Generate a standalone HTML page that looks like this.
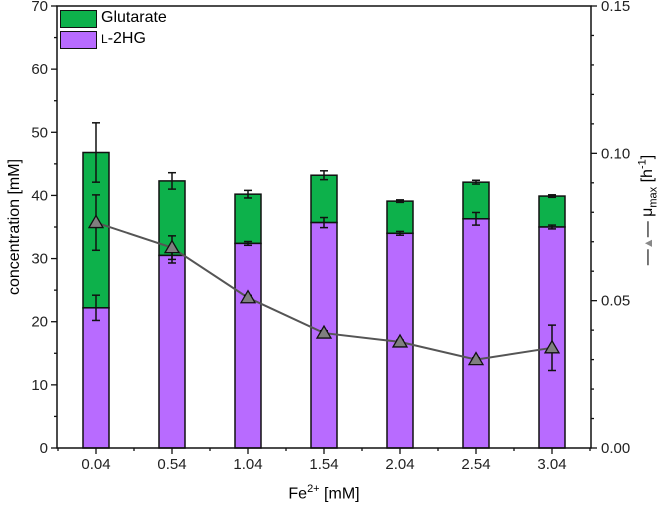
<!DOCTYPE html>
<html><head><meta charset="utf-8"><style>
body{margin:0;background:#fff}
svg text{font-family:"Liberation Sans",sans-serif;fill:#222}
</style></head><body>
<svg id="c" width="661" height="508" xmlns="http://www.w3.org/2000/svg"></svg>
<script>
const categories=["0.04","0.54","1.04","1.54","2.04","2.54","3.04"];
const hg=[22.2,30.5,32.4,35.7,34.0,36.3,35.0];
const hgErr=[2.0,1.2,0.3,0.8,0.3,1.0,0.3];
const total=[46.8,42.3,40.2,43.2,39.1,42.1,39.9];
const totalErr=[4.7,1.3,0.6,0.7,0.2,0.3,0.2];
const mu=[0.0765,0.068,0.051,0.039,0.036,0.030,0.034];
const muErr=[0.0094,0.004,0.0008,0.0008,0.0006,0.0006,0.0077];
const leftTicks=[0,10,20,30,40,50,60,70];
const rightTicks=[0,0.05,0.10,0.15];
const NS="http://www.w3.org/2000/svg",svg=document.getElementById('c');
const L=57,R=591,T=6,B=448;
const yL=v=>B-(v/70)*(B-T);
const yR=v=>B-(v/0.15)*(B-T);
const xC=i=>96+76*i;
function el(t,a,p){const e=document.createElementNS(NS,t);for(const k in a)e.setAttribute(k,a[k]);(p||svg).appendChild(e);return e;}
const bw=26;
categories.forEach((c,i)=>{
 const x=xC(i)-bw/2;
 let g=el('rect',{x:x,y:yL(total[i]),width:bw,height:yL(hg[i])-yL(total[i]),fill:'#0db14b',stroke:'#111','stroke-width':1.5});
 
 
 let p=el('rect',{x:x,y:yL(hg[i]),width:bw,height:B-yL(hg[i]),fill:'#b86bff',stroke:'#111','stroke-width':1.5});
 
 
 [[total[i],totalErr[i]],[hg[i],hgErr[i]]].forEach(([v,e])=>{
  const cx=xC(i),y1=yL(v+e),y2=yL(v-e);
  el('line',{x1:cx,x2:cx,y1:y1,y2:y2,stroke:'#111','stroke-width':1.5});
  el('line',{x1:cx-4,x2:cx+4,y1:y1,y2:y1,stroke:'#111','stroke-width':1.5});
  el('line',{x1:cx-4,x2:cx+4,y1:y2,y2:y2,stroke:'#111','stroke-width':1.5});
 });
});
let pts=mu.map((v,i)=>xC(i)+','+yR(v)).join(' ');
let pl=el('polyline',{points:pts,fill:'none',stroke:'#555','stroke-width':2});


mu.forEach((v,i)=>{
 const cx=xC(i),y1=yR(v+muErr[i]),y2=yR(v-muErr[i]);
 el('line',{x1:cx,x2:cx,y1:y1,y2:y2,stroke:'#111','stroke-width':1.5});
 el('line',{x1:cx-4,x2:cx+4,y1:y1,y2:y1,stroke:'#111','stroke-width':1.5});
 el('line',{x1:cx-4,x2:cx+4,y1:y2,y2:y2,stroke:'#111','stroke-width':1.5});
 const y=yR(v);
 let t=el('polygon',{points:`${cx},${y-7} ${cx-7},${y+5} ${cx+7},${y+5}`,fill:'#7f7f7f',stroke:'#111','stroke-width':1.3});
 
 
});
el('rect',{x:L,y:T,width:R-L,height:B-T,fill:'none',stroke:'#111','stroke-width':1.5});
for(let v=0;v<=70;v+=5){const y=yL(v),maj=v%10==0;el('line',{x1:L-(maj?6:3),x2:L,y1:y,y2:y,stroke:'#111','stroke-width':1.3});}
leftTicks.forEach(v=>{let t=el('text',{x:L-9,y:yL(v)+5,'text-anchor':'end','font-size':15});t.textContent=v;});
for(let k=0;k<=15;k++){const v=k*0.01,y=yR(v),maj=k%5==0;el('line',{x1:R,x2:R+(maj?6:3),y1:y,y2:y,stroke:'#111','stroke-width':1.3});}
rightTicks.forEach(v=>{let t=el('text',{x:R+10,y:yR(v)+5,'font-size':15});t.textContent=v.toFixed(2);});
categories.forEach((c,i)=>{
 el('line',{x1:xC(i),x2:xC(i),y1:B,y2:B+6,stroke:'#111','stroke-width':1.3});
 el('line',{x1:xC(i)+38,x2:xC(i)+38,y1:B,y2:B+3,stroke:'#111','stroke-width':1.3});
 let t=el('text',{x:xC(i),y:B+21,'text-anchor':'middle','font-size':15});t.textContent=c;
});
el('line',{x1:xC(0)-38,x2:xC(0)-38,y1:B,y2:B+3,stroke:'#111','stroke-width':1.3});
</script>
<div style="position:absolute;left:60px;top:10px">
<div style="position:absolute;left:0;top:0;width:35px;height:16px;background:#0db14b;border:1.5px solid #111"></div>
<div style="position:absolute;top:-1px;font:16px 'Liberation Sans',sans-serif;left:41px;white-space:nowrap">Glutarate</div>
<div style="position:absolute;left:0;top:21px;width:35px;height:16px;background:#b86bff;border:1.5px solid #111"></div>
<div style="position:absolute;top:20px;font:16px 'Liberation Sans',sans-serif;left:41px;white-space:nowrap"><span style="font-size:12px">L</span>-2HG</div>
</div>
<div style="position:absolute;left:15px;top:227px;transform:translate(-50%,-50%) rotate(-90deg);font:16px 'Liberation Sans',sans-serif;white-space:nowrap">concentration [mM]</div>
<div style="position:absolute;left:648px;top:210px;transform:translate(-50%,-50%) rotate(-90deg);font:16px 'Liberation Sans',sans-serif;white-space:nowrap">—<span style="font-size:12px;color:#888">▲</span>— μ<sub style="font-size:11px">max</sub> [h<sup style="font-size:11px">-1</sup>]</div>
<div style="position:absolute;left:324px;top:483px;transform:translateX(-50%);font:16px 'Liberation Sans',sans-serif;white-space:nowrap">Fe<sup style="font-size:11px">2+</sup> [mM]</div>
</body></html>
